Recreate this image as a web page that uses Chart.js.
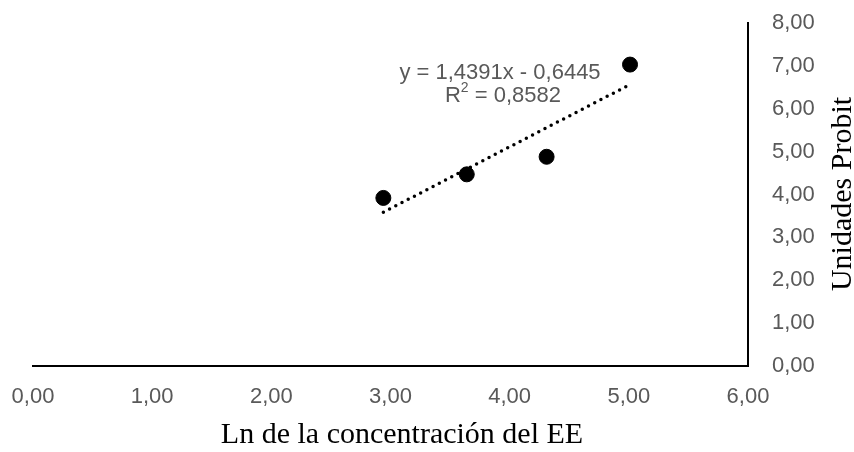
<!DOCTYPE html>
<html>
<head>
<meta charset="utf-8">
<script src="https://cdn.jsdelivr.net/npm/chart.js@4/dist/chart.umd.min.js"></script>
<style>
  html, body { margin: 0; padding: 0; background: #fff; }
  #wrap { width: 854px; height: 452px; }
</style>
</head>
<body>
<div id="wrap"><canvas id="chart" width="854" height="452"></canvas></div>
<script>
// data
const lnConc = [2.94, 3.64, 4.31, 5.01];
const probit = [3.92, 4.47, 4.88, 7.03];
const slope = 1.4391;
const intercept = -0.6445;
const r2Text = "0,8582";
const xTicks = [0, 1, 2, 3, 4, 5, 6];
const yTicks = [0, 1, 2, 3, 4, 5, 6, 7, 8];
const xTitle = "Ln de la concentración del EE";
const yTitle = "Unidades Probit";

const fmt = v => (+v).toFixed(2).replace(".", ",");
const SANS = "'Liberation Sans', Arial, sans-serif";
const SERIF = "'Liberation Serif', 'Times New Roman', serif";

const points = lnConc.map((x, i) => ({ x, y: probit[i] }));
const xMin = Math.min(...lnConc), xMax = Math.max(...lnConc);
const trend = [xMin, xMax].map(x => ({ x, y: slope * x + intercept }));

// equation label and axis titles
const extras = {
  id: "extras",
  afterDraw(chart) {
    const { ctx } = chart;
    ctx.save();
    ctx.fillStyle = "#595959";
    ctx.textBaseline = "middle";
    ctx.textAlign = "center";
    ctx.font = "22px " + SANS;
    const eq = "y = " + String(slope).replace(".", ",") + "x - " + String(-intercept).replace(".", ",");
    ctx.fillText(eq, 500, 73);
    // R² with small superscript
    const a = "R", b = " = " + r2Text;
    const wa = ctx.measureText(a).width, wb = ctx.measureText(b).width;
    ctx.font = "14px " + SANS;
    const ws = ctx.measureText("2").width;
    const x0 = 503 - (wa + ws + wb) / 2;
    ctx.textAlign = "left";
    ctx.font = "22px " + SANS;
    ctx.fillText(a, x0, 96);
    ctx.font = "14px " + SANS;
    ctx.fillText("2", x0 + wa, 88);
    ctx.font = "22px " + SANS;
    ctx.fillText(b, x0 + wa + ws, 96);

    ctx.fillStyle = "#000";
    ctx.textAlign = "center";
    ctx.font = "30px " + SERIF;
    ctx.fillText(xTitle, 402, 435);
    ctx.translate(843, 194);
    ctx.rotate(-Math.PI / 2);
    ctx.fillText(yTitle, 0, 0);
    ctx.restore();
  }
};

new Chart(document.getElementById("chart"), {
  type: "scatter",
  data: {
    datasets: [
      {
        data: points,
        backgroundColor: "#000",
        borderColor: "#000",
        pointRadius: 7.5,
        pointHoverRadius: 7.5
      },
      {
        type: "line",
        data: trend,
        borderColor: "#000",
        borderWidth: 3.5,
        borderDash: [0, 7],
        borderCapStyle: "round",
        pointRadius: 0,
        fill: false
      }
    ]
  },
  options: {
    responsive: false,
    animation: false,
    layout: { padding: { top: 23, right: 39, left: 33, bottom: 42 } },
    plugins: { legend: { display: false }, tooltip: { enabled: false } },
    scales: {
      x: {
        type: "linear",
        min: 0, max: 6,
        afterBuildTicks: s => { s.ticks = xTicks.map(v => ({ value: v })); },
        afterFit: s => { s.height = 44; s.paddingLeft = 0; s.paddingRight = 0; },
        grid: { display: false, drawTicks: false },
        border: { color: "#000", width: 2 },
        ticks: { color: "#595959", font: { size: 22, family: SANS }, padding: 18, maxRotation: 0, callback: v => fmt(v) }
      },
      y: {
        type: "linear",
        position: "right",
        min: 0, max: 8,
        afterBuildTicks: s => { s.ticks = yTicks.map(v => ({ value: v })); },
        afterFit: s => { s.width = 67; s.paddingTop = 0; s.paddingBottom = 0; },
        grid: { display: false, drawTicks: false },
        border: { color: "#000", width: 2 },
        ticks: { color: "#595959", font: { size: 22, family: SANS }, padding: 24, callback: v => fmt(v) }
      }
    }
  },
  plugins: [extras]
});
</script>
</body>
</html>
